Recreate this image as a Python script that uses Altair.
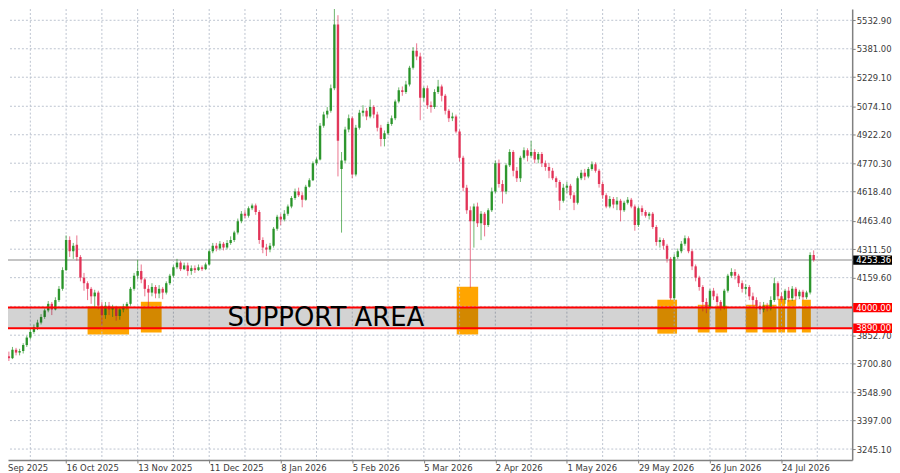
import altair as alt
import pandas as pd

# ---- candle data (daily bars, index 0 = first visible bar) ----
opens = [3710,3740,3730,3775,3760,3768,3800,3840,3870,3895,3920,3950,3985,4020,3990,4040,4100,4200,4360,4300,
         4335,4270,4160,4130,4100,4060,4080,4010,3960,4010,3990,4000,3955,3990,4005,4020,4100,4170,4195,4150,
         4100,4080,4110,4075,4100,4080,4130,4170,4215,4240,4205,4225,4195,4210,4200,4215,4205,4230,4300,4330,
         4315,4340,4320,4345,4360,4400,4460,4500,4490,4530,4545,4510,4360,4320,4310,4330,4420,4485,4470,4500,
         4540,4585,4620,4600,4575,4645,4680,4770,4790,4970,5030,5050,5170,5510,4740,4785,4950,5010,4710,4960,
         5040,5050,5020,5070,5030,4960,4900,4930,4980,5010,5100,5160,5150,5190,5280,5370,5340,5120,5170,5080,
         5070,5150,5180,5130,5050,5010,5020,4940,4800,4640,4520,4460,4540,4450,4500,4440,4520,4620,4770,4660,
         4620,4760,4830,4730,4690,4800,4840,4810,4830,4790,4820,4770,4750,4730,4690,4670,4570,4640,4650,4600,
         4560,4690,4720,4700,4740,4765,4730,4660,4600,4540,4580,4550,4570,4520,4560,4575,4540,4440,4530,4510,
         4490,4500,4430,4350,4360,4330,4260,4050,4270,4300,4340,4370,4300,4220,4160,4110,4030,4000,4090,4060,
         4030,4000,4090,4170,4190,4170,4130,4100,4110,4060,4040,4010,3990,4010,3995,4040,4130,4060,4040,4090,
         4050,4100,4060,4085,4055,4080,4280]
highs = [3750,3765,3790,3785,3780,3810,3850,3885,3910,3935,3965,3995,4035,4030,4055,4115,4215,4385,4380,4345,
         4385,4280,4185,4140,4110,4095,4090,4030,4030,4030,4015,4010,4000,4020,4030,4110,4185,4255,4230,4160,
         4120,4130,4120,4120,4110,4140,4180,4225,4260,4250,4240,4240,4225,4225,4230,4225,4240,4310,4345,4345,
         4355,4350,4360,4380,4410,4475,4515,4520,4540,4555,4555,4520,4375,4340,4345,4430,4495,4500,4520,4550,
         4595,4635,4640,4615,4655,4690,4780,4800,4985,5045,5070,5190,5600,5560,4830,4965,5030,5020,4975,5055,
         5080,5065,5110,5080,5045,4975,4945,4990,5025,5110,5175,5180,5210,5290,5390,5410,5360,5180,5185,5100,
         5165,5215,5190,5140,5060,5040,5030,4950,4810,4655,4540,4555,4560,4515,4510,4530,4640,4785,4790,4680,
         4770,4845,4840,4750,4810,4855,4850,4890,4845,4830,4830,4785,4770,4745,4700,4680,4660,4670,4660,4615,
         4700,4735,4740,4750,4780,4775,4740,4670,4610,4595,4590,4590,4580,4570,4590,4585,4550,4540,4545,4520,
         4510,4510,4440,4375,4370,4340,4270,4285,4315,4355,4385,4380,4310,4230,4170,4120,4050,4100,4105,4075,
         4040,4100,4180,4210,4205,4180,4145,4125,4120,4080,4055,4030,4030,4025,4060,4160,4140,4080,4100,4110,
         4115,4110,4095,4095,4090,4295,4305]
lows = [3700,3715,3725,3745,3745,3755,3790,3830,3860,3880,3910,3940,3975,3960,3985,4030,4090,4195,4270,4260,
        4250,4140,4090,4040,4020,4000,3990,3905,3940,3960,3950,3930,3935,3975,3990,4010,4090,4150,4130,4060,
        4000,4060,4050,4050,4045,4070,4120,4160,4205,4195,4200,4170,4175,4185,4195,4195,4200,4225,4290,4300,
        4305,4305,4310,4335,4350,4390,4450,4475,4480,4520,4495,4340,4290,4275,4295,4320,4410,4440,4460,4490,
        4530,4575,4590,4535,4570,4640,4675,4760,4785,4960,5010,5040,5160,4700,4400,4770,4935,4690,4700,4950,
        5020,5000,5010,5010,4940,4860,4860,4920,4970,5000,5090,5130,5140,5180,5270,5320,5000,5100,5060,5040,
        5060,5140,5100,5030,4990,4995,4930,4780,4620,4500,4106,4320,4430,4360,4380,4430,4510,4610,4640,4555,
        4605,4750,4700,4670,4670,4790,4780,4800,4770,4770,4750,4730,4690,4680,4640,4520,4560,4610,4580,4520,
        4550,4680,4680,4690,4730,4720,4640,4580,4530,4530,4530,4520,4460,4510,4550,4530,4410,4430,4490,4480,
        4470,4420,4330,4320,4310,4240,4040,4040,4260,4290,4330,4290,4200,4140,4090,3980,3970,3990,4040,4010,
        3985,3990,4080,4160,4150,4110,4080,4070,4040,4010,3990,3965,3975,3980,3985,4030,4040,4030,4020,4030,
        4035,4040,4045,4040,4045,4070,4245]
closes = [3740,3730,3775,3760,3768,3800,3840,3870,3895,3920,3950,3985,4020,3990,4040,4100,4200,4360,4300,4330,
          4270,4160,4130,4100,4060,4080,4010,3960,4010,3990,4000,3955,3990,4005,4020,4100,4170,4195,4150,4100,
          4080,4110,4075,4100,4080,4130,4170,4215,4240,4205,4225,4195,4210,4200,4215,4205,4230,4300,4330,4315,
          4340,4320,4345,4360,4400,4460,4500,4490,4530,4545,4510,4360,4320,4310,4330,4420,4485,4470,4500,4540,
          4585,4620,4600,4575,4645,4680,4770,4790,4970,5030,5050,5170,5510,4890,4785,4950,5010,4710,4960,5040,
          5050,5020,5070,5030,4960,4900,4930,4980,5010,5100,5160,5150,5190,5280,5370,5340,5120,5170,5080,5070,
          5150,5180,5130,5050,5010,5020,4940,4800,4640,4520,4460,4540,4450,4500,4440,4520,4620,4770,4660,4620,
          4760,4830,4730,4690,4800,4840,4810,4830,4790,4820,4770,4750,4730,4690,4670,4570,4640,4650,4600,4560,
          4690,4720,4700,4740,4765,4730,4660,4600,4540,4580,4550,4570,4520,4560,4575,4540,4440,4530,4510,4490,
          4500,4430,4350,4360,4330,4260,4050,4270,4300,4340,4370,4300,4220,4160,4110,4030,4000,4090,4060,4030,
          4000,4090,4170,4190,4170,4130,4100,4110,4060,4040,4010,3990,4010,3995,4040,4130,4060,4040,4090,4050,
          4100,4060,4085,4055,4080,4280,4253.36]
bars = list(range(len(closes)))

# ---- axes ----
price_ticks = [3245.1, 3397.0, 3548.9, 3700.8, 3852.7, 4159.6, 4311.5, 4463.4,
               4618.4, 4770.3, 4922.2, 5074.1, 5229.1, 5381.0, 5532.9]
hidden_tick = [4006.2]
date_bars = [-3, 17, 37, 57, 77, 97, 117, 137, 157, 177, 197, 217]
date_labels = ["18 Sep 2025", "16 Oct 2025", "13 Nov 2025", "11 Dec 2025", "8 Jan 2026",
               "5 Feb 2026", "5 Mar 2026", "2 Apr 2026", "1 May 2026", "29 May 2026",
               "26 Jun 2026", "24 Jul 2026"]
vgrid_bars = [7, 17, 27, 37, 47, 57, 67, 77, 87, 97, 107, 117, 127, 137, 147, 157,
              167, 177, 187, 197, 207, 217, 227]

# ---- support zone and touch boxes ----
support_low = 3890.0
support_high = 4000.0
last_price = 4253.36
zone_x0 = [23.0, 37.9, 126.2, 182.3, 193.6, 198.5, 207.0, 211.7, 216.1, 218.6, 222.7]
zone_x1 = [34.6, 43.7, 132.2, 187.8, 196.9, 201.8, 210.3, 215.6, 218.0, 221.1, 225.2]
zone_lo = [3856, 3867, 3856, 3861, 3867, 3867, 3867, 3867, 3867, 3867, 3867]
zone_hi = [4007, 4031, 4111, 4042, 4015, 4010, 4015, 4015, 4047, 4042, 4042]
label_text = "SUPPORT AREA"
label_bar = 89.6
label_price = 3945

W, H = 848, 453
FONT = "DejaVu Sans"
GREEN = "#1f8f1f"
RED = "#e0294f"
GRID = "#bcc4d0"

xs = alt.Scale(domain=[2.145, 235.37], nice=False, zero=False)
ys = alt.Scale(domain=[3186.7, 5592.9], nice=False, zero=False)

df = pd.DataFrame({"bar": bars, "open": opens, "high": highs, "low": lows, "close": closes})
up_color = alt.condition("datum.close >= datum.open", alt.value(GREEN), alt.value(RED))

label_expr = ("[" + ",".join("'%s'" % s for s in date_labels) + "][indexof(["
              + ",".join(str(b) for b in date_bars) + "], datum.value)]")

x_axis = alt.Axis(values=date_bars, labelExpr=label_expr, grid=False, title=None,
                  labelAlign="left", labelBaseline="top", labelPadding=1, tickSize=3,
                  tickColor="#808080", domainColor="#808080", domainWidth=1.5,
                  labelFont=FONT, labelFontSize=8.5, labelColor="#3a3a3a",
                  labelFlush=False, labelOverlap=False)
y_axis = alt.Axis(orient="right", values=price_ticks, format=".2f", grid=False, title=None,
                  tickSize=3, labelPadding=1, tickColor="#808080", domainColor="#808080",
                  domainWidth=1.5, labelFont=FONT, labelFontSize=8.5, labelColor="#3a3a3a",
                  labelFlush=False, labelOverlap=False)


def X(field):
    return alt.X(field, scale=xs, axis=x_axis)


def Y(field):
    return alt.Y(field, scale=ys, axis=y_axis)


zones = alt.Chart(pd.DataFrame({"x0": zone_x0, "x1": zone_x1, "lo": zone_lo, "hi": zone_hi})).mark_rect(
    color="#FFA500", clip=True).encode(
    x=X("x0:Q"), x2="x1:Q", y=Y("lo:Q"), y2="hi:Q")

hgrid = alt.Chart(pd.DataFrame({"p": price_ticks + hidden_tick})).mark_rule(
    color=GRID, strokeDash=[2, 2], strokeWidth=1).encode(y=Y("p:Q"))
vgrid = alt.Chart(pd.DataFrame({"b": vgrid_bars})).mark_rule(
    color=GRID, strokeDash=[2, 2], strokeWidth=1, clip=True).encode(x=X("b:Q"))

price_line = alt.Chart(pd.DataFrame({"p": [last_price]})).mark_rule(
    color="#c4c4c4", strokeWidth=2).encode(y=Y("p:Q"))

wicks = alt.Chart(df).mark_rule(strokeWidth=1, opacity=0.65, clip=True).encode(
    x=X("bar:Q"), y=Y("low:Q"), y2="high:Q", color=up_color)
bodies = alt.Chart(df).mark_bar(size=2.4, opacity=0.9, clip=True).encode(
    x=X("bar:Q"), y=Y("open:Q"), y2="close:Q", color=up_color)

band = alt.Chart(pd.DataFrame({"lo": [support_low], "hi": [support_high]})).mark_rect(
    color="black", opacity=0.173).encode(
    x=alt.value(0), x2=alt.value(W), y=Y("lo:Q"), y2="hi:Q")
red_lines = alt.Chart(pd.DataFrame({"p": [support_low, support_high]})).mark_rule(
    color="#ff0000", strokeWidth=2).encode(y=Y("p:Q"))

txt = alt.Chart(pd.DataFrame({"x": [label_bar], "y": [label_price], "t": [label_text]})).mark_text(
    font=FONT, fontSize=26, align="center", baseline="middle", color="black").encode(
    x=X("x:Q"), y=Y("y:Q"), text="t:N")

# first date label sits left of the visible range (partly cut off, as in the source)
first_date = alt.Chart(pd.DataFrame({"b": [date_bars[0]], "t": [date_labels[0]]})).mark_text(
    font=FONT, fontSize=8.5, align="left", baseline="top", color="#3a3a3a").encode(
    x=X("b:Q"), y=alt.value(H + 4), text="t:N")

tags = pd.DataFrame({"p": [last_price, support_high, support_low]})
tag_color = alt.condition("datum.p == %s" % last_price, alt.value("black"), alt.value("#ff0000"))
tag_boxes = alt.Chart(tags).transform_calculate(
    lo="datum.p - 25", hi="datum.p + 25").mark_rect(clip=False).encode(
    x=alt.value(W + 1), x2=alt.value(W + 43),
    y=Y("lo:Q"), y2="hi:Q", color=tag_color)
tag_text = alt.Chart(tags).mark_text(
    font=FONT, fontSize=8.5, align="left", baseline="middle", color="white").encode(
    x=alt.value(W + 4), y=Y("p:Q"), text=alt.Text("p:Q", format=".2f"))

chart = alt.layer(zones, hgrid, vgrid, price_line, wicks, bodies, band, red_lines, txt,
                  first_date, tag_boxes, tag_text).properties(
    width=W, height=H, autosize=alt.AutoSizeParams(type="none"),
    padding={"left": 0, "top": 0, "right": 40, "bottom": 12},
    background="white").configure_view(stroke=None)

chart.save("out.html", embed_options={"renderer": "svg", "actions": False})
